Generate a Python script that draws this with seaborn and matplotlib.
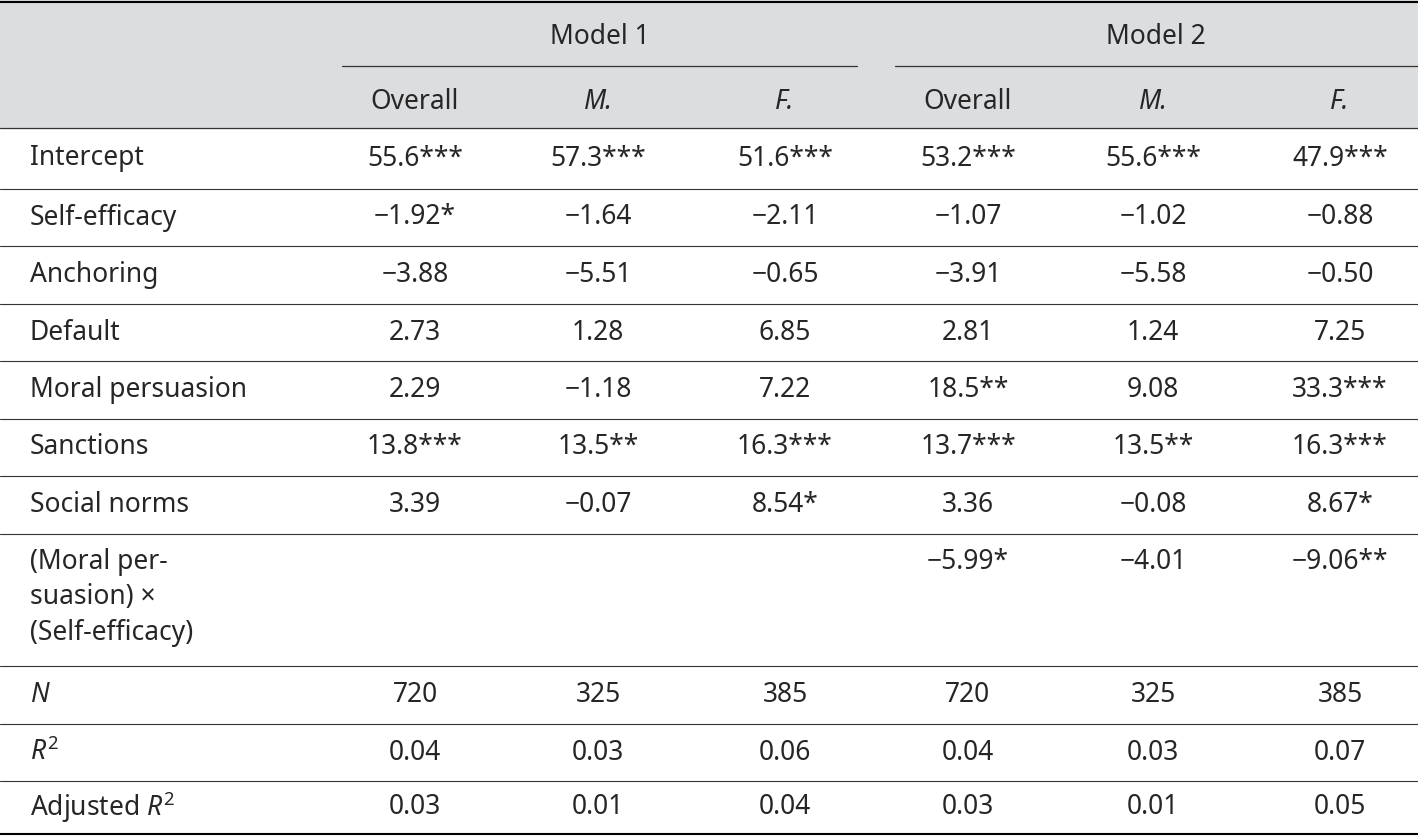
import matplotlib
matplotlib.use("Agg")
import matplotlib.pyplot as plt
import seaborn as sns

sns.set_style("white")
plt.rcParams["font.family"] = ["Noto Sans", "DejaVu Sans"]
plt.rcParams["mathtext.fontset"] = "custom"
plt.rcParams["mathtext.rm"] = "Noto Sans"
plt.rcParams["mathtext.it"] = "Noto Sans:italic"

models = ["Model 1", "Model 2"]
subcols = ["Overall", "M.", "F.", "Overall", "M.", "F."]
row_labels = ["Intercept", "Self-efficacy", "Anchoring", "Default", "Moral persuasion",
              "Sanctions", "Social norms", "(Moral per-\nsuasion) ×\n(Self-efficacy)",
              "$N$", "$R^2$", "Adjusted $R^2$"]
cells = [
    ["55.6***", "57.3***", "51.6***", "53.2***", "55.6***", "47.9***"],
    ["−1.92*", "−1.64", "−2.11", "−1.07", "−1.02", "−0.88"],
    ["−3.88", "−5.51", "−0.65", "−3.91", "−5.58", "−0.50"],
    ["2.73", "1.28", "6.85", "2.81", "1.24", "7.25"],
    ["2.29", "−1.18", "7.22", "18.5**", "9.08", "33.3***"],
    ["13.8***", "13.5**", "16.3***", "13.7***", "13.5**", "16.3***"],
    ["3.39", "−0.07", "8.54*", "3.36", "−0.08", "8.67*"],
    ["", "", "", "−5.99*", "−4.01", "−9.06**"],
    ["720", "325", "385", "720", "325", "385"],
    ["0.04", "0.03", "0.06", "0.04", "0.03", "0.07"],
    ["0.03", "0.01", "0.04", "0.03", "0.01", "0.05"],
]

W, H = 1418, 836
fig = plt.figure(figsize=(W / 100, H / 100), dpi=100)
ax = fig.add_axes([0, 0, 1, 1])
ax.set_xlim(0, W)
ax.set_ylim(H, 0)
ax.axis("off")

fs = 19
col_x = [415, 598, 785, 968, 1153, 1340]
row_bounds = [128, 189, 246, 304, 361, 419, 476, 534, 666, 724, 781, 834]

ax.axhspan(0, 128, color="#dcdddf", zorder=0)
ax.axhline(1.5, color="black", lw=1.5)
ax.axhline(128, color="#333333", lw=0.9)
ax.axhline(834, color="black", lw=1.5)
for y in row_bounds[1:-1]:
    ax.axhline(y, color="#333333", lw=0.8)

ax.plot([342, 857], [66, 66], color="#333333", lw=0.9)
ax.plot([895, 1418], [66, 66], color="#333333", lw=0.9)
ax.text(600, 37, models[0], ha="center", va="center", fontsize=fs)
ax.text(1156, 37, models[1], ha="center", va="center", fontsize=fs)
for x, s in zip(col_x, subcols):
    ax.text(x, 102, s, ha="center", va="center", fontsize=fs,
            style="italic" if s != "Overall" else "normal")

for i, (lab, vals) in enumerate(zip(row_labels, cells)):
    top, bot = row_bounds[i], row_bounds[i + 1]
    if "\n" in lab:
        ax.text(30, top + 14, lab, ha="left", va="top", fontsize=fs, linespacing=1.35)
        yv = top + 28
    else:
        yv = (top + bot) / 2
        ax.text(30, yv, lab, ha="left", va="center", fontsize=fs)
    for x, v in zip(col_x, vals):
        ax.text(x, yv, v, ha="center", va="center", fontsize=fs)

fig.savefig("out.png", dpi=100)
